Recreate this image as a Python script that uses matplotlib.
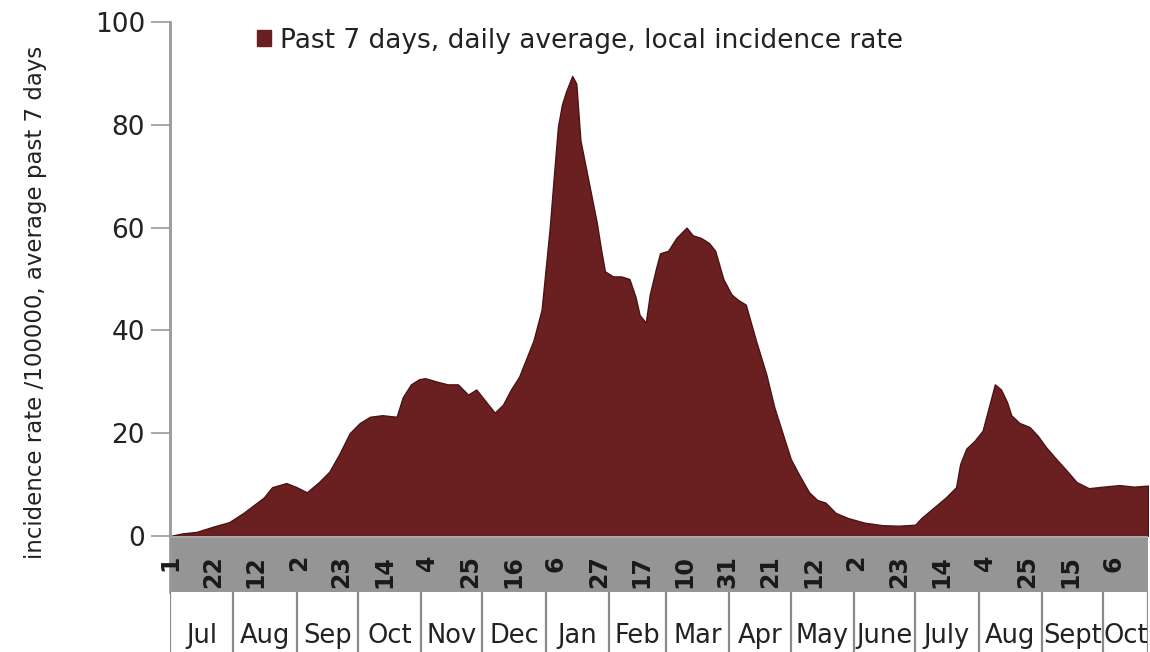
import datetime as dt
import matplotlib
matplotlib.use("Agg")
import matplotlib.pyplot as plt
from matplotlib.patches import Patch

# ---------------- data ----------------
start_date = dt.date(2020, 7, 1)
end_day = 479  # days after start shown on the axis

day_offset = [0, 6, 13, 21, 29, 36, 41, 46, 50, 57, 62, 67, 73, 78, 83, 88, 93, 98,
              104, 111, 114, 118, 122, 125, 131, 136, 141, 146, 150, 154, 159, 163,
              167, 171, 174, 178, 182, 184, 186, 188, 190, 192, 194, 197, 199, 201,
              204, 206, 209, 211, 213, 217, 221, 225, 228, 230, 233, 235, 238, 240,
              244, 248, 253, 256, 260, 264, 267, 271, 275, 278, 282, 287, 292, 296,
              300, 304, 308, 313, 317, 321, 326, 332, 340, 349, 357, 365, 368, 374,
              380, 385, 387, 390, 394, 398, 401, 404, 407, 410, 412, 416, 421, 425,
              429, 434, 439, 444, 450, 457, 465, 472, 479]
incidence = [0, 0.5, 0.8, 1.8, 2.7, 4.5, 6, 7.5, 9.5, 10.3, 9.5, 8.5, 10.5, 12.5, 16,
             20, 22, 23.2, 23.5, 23.2, 27, 29.5, 30.5, 30.7, 30, 29.5, 29.5, 27.5,
             28.5, 26.5, 24, 25.5, 28.5, 31, 34, 38, 44, 52, 60, 70, 79.6, 84, 86.5,
             89.5, 88, 77, 71, 67, 61, 56, 51.5, 50.5, 50.5, 50, 46.5, 43, 41.5, 47,
             52, 55, 55.5, 58, 60, 58.5, 58, 57, 55.5, 50, 47, 46, 45, 38, 31.5, 25,
             20, 15, 12, 8.5, 7, 6.5, 4.5, 3.5, 2.6, 2.1, 2, 2.2, 3.5, 5.5, 7.5, 9.5,
             14, 17, 18.5, 20.5, 25, 29.5, 28.5, 26, 23.5, 22, 21.2, 19.5, 17.3, 15,
             12.8, 10.5, 9.3, 9.6, 9.9, 9.6, 9.8]

month_names = ["Jul", "Aug", "Sep", "Oct", "Nov", "Dec", "Jan", "Feb", "Mar", "Apr",
               "May", "June", "July", "Aug", "Sept", "Oct"]
tick_step_days = 21
y_ticks = [0, 20, 40, 60, 80, 100]

legend_label = "Past 7 days, daily average, local incidence rate"
y_label = "incidence rate /100000, average past 7 days"

# ---------------- derived positions ----------------
tick_days = list(range(0, end_day, tick_step_days))
tick_labels = [str((start_date + dt.timedelta(days=d)).day) for d in tick_days]

month_starts = []
y_, m_ = start_date.year, start_date.month
for _ in range(len(month_names)):
    month_starts.append((dt.date(y_, m_, 1) - start_date).days)
    m_ += 1
    if m_ > 12:
        m_ = 1
        y_ += 1
month_edges = month_starts + [end_day]

# ---------------- figure ----------------
W, H = 1150, 652
fig = plt.figure(figsize=(W / 100, H / 100), dpi=100)
fig.patch.set_facecolor("white")

x_left, x_right = 170, 1148
y_top, y_zero, y_band, y_bot = 22, 536, 592, 652

def fx(px):
    return px / W

def fy(py):
    return 1 - py / H

axw = fx(x_right) - fx(x_left)
ax = fig.add_axes([fx(x_left), fy(y_zero), axw, fy(y_top) - fy(y_zero)])
ax_band = fig.add_axes([fx(x_left), fy(y_band), axw, fy(y_zero) - fy(y_band)], sharex=ax)
ax_mon = fig.add_axes([fx(x_left), 0, axw, fy(y_band)], sharex=ax)

fill_col = "#6A2020"
ax.fill_between(day_offset, incidence, 0, color=fill_col, edgecolor="#4a1414",
                linewidth=1.0, zorder=2)
ax.set_xlim(0, end_day)
ax.set_ylim(0, 100)
ax.set_yticks(y_ticks)
ax.set_yticklabels([str(v) for v in y_ticks], fontsize=19, color="#222222")
ax.tick_params(axis="y", direction="out", length=14, width=1.2, color="#999999", pad=4)
ax.tick_params(axis="x", bottom=False, labelbottom=False)
for s in ["top", "right", "bottom"]:
    ax.spines[s].set_visible(False)
ax.spines["left"].set_color("#999999")
ax.spines["left"].set_linewidth(2)

# legend
leg = ax.legend(handles=[Patch(facecolor=fill_col, edgecolor=fill_col)],
                labels=[legend_label], loc="upper left",
                bbox_to_anchor=(fx(246), fy(17)), bbox_transform=fig.transFigure,
                frameon=False, fontsize=19, handlelength=0.55, handleheight=0.55,
                handletextpad=0.35, borderaxespad=0)
for t in leg.get_texts():
    t.set_color("#222222")

# gray band with day labels
ax_band.set_facecolor("#959595")
ax_band.set_ylim(0, 1)
ax_band.axhline(1, color="#a8a8a8", lw=2)
for d, lab in zip(tick_days, tick_labels):
    ax_band.text(d, (y_band - 555) / (y_band - y_zero), lab, rotation=90,
                 ha="center", va="top", fontsize=17, fontweight="bold",
                 color="#1a1a1a")
ax_band.tick_params(left=False, bottom=False, labelleft=False, labelbottom=False)
for s in ["top", "right", "bottom"]:
    ax_band.spines[s].set_visible(False)
ax_band.spines["left"].set_color("#999999")
ax_band.spines["left"].set_linewidth(2)

# month boxes
ax_mon.set_ylim(0, 1)
for e in month_edges:
    ax_mon.axvline(e, color="#8a8a8a", lw=1.6)
for a, b, name in zip(month_edges[:-1], month_edges[1:], month_names):
    ax_mon.text((a + b) / 2, 0.27, name, ha="center", va="center", fontsize=18.5,
                color="#222222")
ax_mon.tick_params(left=False, bottom=False, labelleft=False, labelbottom=False)
for s in ["top", "right", "bottom", "left"]:
    ax_mon.spines[s].set_visible(False)

fig.text(fx(36), fy(302), y_label, rotation=90, ha="center", va="center",
         fontsize=16.5, color="#222222")

fig.savefig("out.png", dpi=100, facecolor="white")
